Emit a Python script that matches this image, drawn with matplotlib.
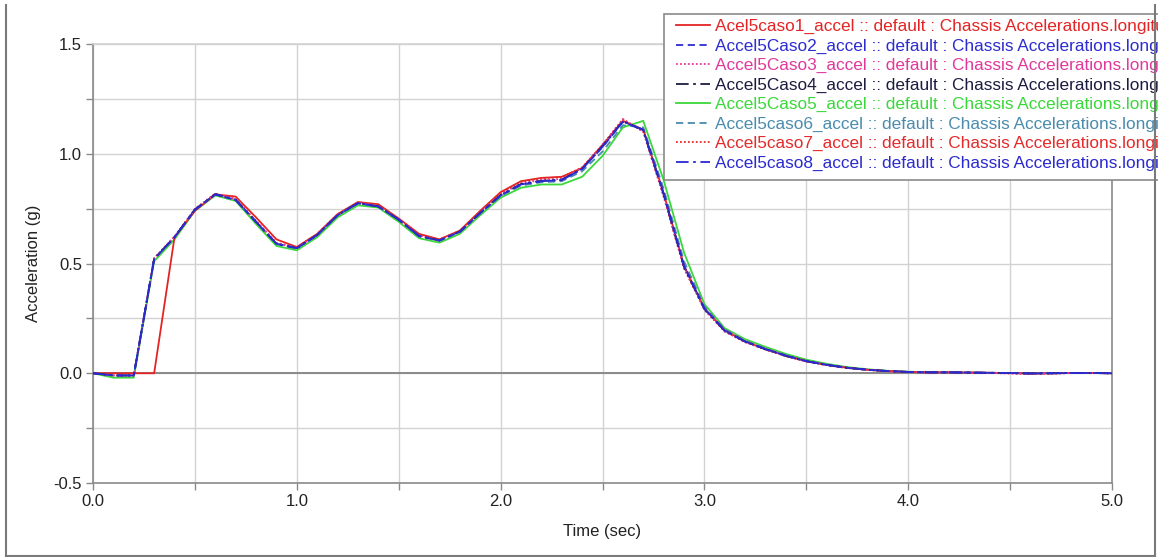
import numpy as np
import matplotlib.pyplot as plt
from matplotlib.lines import Line2D
from matplotlib.patches import Rectangle

plt.rcParams['font.family'] = ['Liberation Sans', 'DejaVu Sans']

# time axis, samples every 0.1 s
time = np.arange(0, 51) / 10

caso1 = [0.000, 0.000, 0.000, 0.000, 0.620, 0.740, 0.815, 0.805, 0.710, 0.610,
         0.575, 0.635, 0.725, 0.780, 0.770, 0.705, 0.635, 0.610, 0.650, 0.740,
         0.825, 0.875, 0.890, 0.895, 0.935, 1.040, 1.150, 1.110, 0.820, 0.490,
         0.295, 0.195, 0.145, 0.110, 0.080, 0.055, 0.038, 0.025, 0.016, 0.010,
         0.006, 0.004, 0.004, 0.003, 0.002, 0.001, -0.001, 0.000, 0.001, 0.001,
         0.000]
caso2 = [0.000, -0.010, -0.010, 0.520, 0.620, 0.745, 0.815, 0.790, 0.690, 0.590,
         0.570, 0.630, 0.720, 0.775, 0.760, 0.700, 0.625, 0.605, 0.645, 0.730,
         0.810, 0.860, 0.875, 0.880, 0.930, 1.030, 1.145, 1.110, 0.820, 0.490,
         0.295, 0.195, 0.145, 0.110, 0.080, 0.055, 0.038, 0.025, 0.016, 0.010,
         0.006, 0.004, 0.004, 0.003, 0.002, 0.001, -0.001, 0.000, 0.001, 0.001,
         0.000]
caso3 = [0.000, -0.010, -0.010, 0.525, 0.622, 0.748, 0.818, 0.792, 0.692, 0.592,
         0.572, 0.632, 0.722, 0.777, 0.762, 0.702, 0.627, 0.607, 0.647, 0.732,
         0.815, 0.865, 0.880, 0.885, 0.935, 1.040, 1.155, 1.105, 0.810, 0.480,
         0.290, 0.190, 0.142, 0.108, 0.078, 0.054, 0.037, 0.024, 0.015, 0.009,
         0.006, 0.004, 0.004, 0.003, 0.002, 0.000, -0.002, 0.000, 0.001, 0.001,
         0.000]
caso4 = [0.000, -0.010, -0.010, 0.522, 0.620, 0.746, 0.816, 0.790, 0.690, 0.590,
         0.570, 0.630, 0.720, 0.775, 0.760, 0.700, 0.625, 0.605, 0.645, 0.730,
         0.812, 0.862, 0.877, 0.882, 0.932, 1.035, 1.148, 1.108, 0.815, 0.485,
         0.293, 0.193, 0.144, 0.109, 0.079, 0.055, 0.038, 0.025, 0.016, 0.010,
         0.006, 0.004, 0.004, 0.003, 0.002, 0.001, -0.001, 0.000, 0.001, 0.001,
         0.000]
caso5 = [0.000, -0.020, -0.020, 0.510, 0.610, 0.740, 0.810, 0.785, 0.680, 0.580,
         0.560, 0.620, 0.710, 0.765, 0.755, 0.690, 0.615, 0.595, 0.635, 0.720,
         0.800, 0.845, 0.860, 0.860, 0.895, 0.990, 1.120, 1.150, 0.880, 0.550,
         0.315, 0.205, 0.155, 0.120, 0.088, 0.062, 0.043, 0.028, 0.018, 0.011,
         0.007, 0.005, 0.004, 0.003, 0.002, 0.001, 0.000, 0.000, 0.001, 0.001,
         0.000]
caso6 = [0.000, -0.010, -0.010, 0.520, 0.618, 0.744, 0.814, 0.788, 0.688, 0.588,
         0.568, 0.628, 0.718, 0.773, 0.758, 0.698, 0.623, 0.603, 0.643, 0.728,
         0.808, 0.855, 0.870, 0.875, 0.920, 1.010, 1.130, 1.120, 0.840, 0.510,
         0.305, 0.200, 0.148, 0.113, 0.082, 0.057, 0.040, 0.026, 0.017, 0.010,
         0.006, 0.004, 0.004, 0.003, 0.002, 0.001, 0.000, 0.000, 0.001, 0.001,
         0.000]
caso7 = [0.000, -0.010, -0.010, 0.522, 0.622, 0.748, 0.818, 0.794, 0.694, 0.594,
         0.574, 0.634, 0.724, 0.779, 0.764, 0.704, 0.629, 0.609, 0.649, 0.735,
         0.820, 0.872, 0.888, 0.893, 0.938, 1.040, 1.158, 1.100, 0.805, 0.478,
         0.290, 0.190, 0.142, 0.108, 0.078, 0.054, 0.037, 0.024, 0.015, 0.009,
         0.006, 0.004, 0.004, 0.003, 0.001, -0.001, -0.003, -0.002, 0.001, 0.001,
         0.000]
caso8 = [0.000, -0.010, -0.010, 0.520, 0.620, 0.745, 0.815, 0.790, 0.690, 0.590,
         0.570, 0.630, 0.720, 0.775, 0.760, 0.700, 0.625, 0.605, 0.645, 0.730,
         0.810, 0.860, 0.875, 0.880, 0.930, 1.032, 1.147, 1.108, 0.818, 0.488,
         0.294, 0.194, 0.145, 0.110, 0.080, 0.055, 0.038, 0.025, 0.016, 0.010,
         0.006, 0.004, 0.004, 0.003, 0.002, 0.001, -0.001, 0.000, 0.001, 0.001,
         0.000]

names = ['Acel5caso1_accel', 'Accel5Caso2_accel', 'Accel5Caso3_accel', 'Accel5Caso4_accel',
         'Accel5Caso5_accel', 'Accel5caso6_accel', 'Accel5caso7_accel', 'Accel5caso8_accel']
series = [caso1, caso2, caso3, caso4, caso5, caso6, caso7, caso8]
colors = ['#e42424', '#2c2cd0', '#e0389c', '#1c1c40', '#3ad83a', '#4a8cae', '#e42a2a', '#2a2ad0']
styles = ['-', (0, (4, 2.5)), (0, (1, 1.2)), (0, (7, 2.5, 1.5, 2.5)),
          '-', (0, (4, 2.5)), (0, (1, 1.2)), (0, (7, 2.5, 1.5, 2.5))]
suffix = ' :: default : Chassis Accelerations.longitudinal'

fig = plt.figure(figsize=(11.58, 5.57), dpi=100)
ax = fig.add_axes([93 / 1158, 1 - 483 / 557, (1112 - 93) / 1158, (483 - 44) / 557])

# draw back to front so case 1 (red) ends up visible like in the original
order = [4, 5, 0, 6, 2, 3, 1, 7]
for i in order:
    ax.plot(time, series[i], color=colors[i], linestyle=styles[i], lw=1.3,
            label=names[i] + suffix, zorder=3 + order.index(i) * 0.1)

ax.axhline(0, color='#8a8a8a', lw=1.4, zorder=2)
ax.set_xlim(0, 5)
ax.set_ylim(-0.5, 1.5)
ax.set_xticks(np.arange(0, 5.01, 0.5))
ax.set_xticklabels(['0.0', '', '1.0', '', '2.0', '', '3.0', '', '4.0', '', '5.0'])
ax.set_yticks(np.arange(-0.5, 1.51, 0.25))
ax.set_yticklabels(['-0.5', '', '0.0', '', '0.5', '', '1.0', '', '1.5'])
ax.grid(True, color='#d2d2d2', lw=1.0, zorder=0)
ax.tick_params(direction='out', length=5, width=1, color='#8a8a8a', labelsize=12,
               labelcolor='#222222', pad=3)
for s in ax.spines.values():
    s.set_color('#8a8a8a')
    s.set_linewidth(1.2)
ax.spines['top'].set_color('#d2d2d2')
ax.set_xlabel('Time (sec)', fontsize=12, color='#222222', labelpad=11)
ax.set_ylabel('Acceleration (g)', fontsize=12, color='#222222', labelpad=9)

# legend box (the legend itself runs past the right edge, as in the original)
fig.add_artist(Rectangle((664 / 1158, 1 - 180 / 557), 500 / 1158, 166 / 557,
                         transform=fig.transFigure, facecolor='white',
                         edgecolor='#8a8a8a', lw=1.2, zorder=5))
handles, labels = ax.get_legend_handles_labels()
hl = dict(zip(labels, handles))
leg_labels = [n + suffix for n in names]
leg = fig.legend([hl[l] for l in leg_labels], leg_labels, loc='upper left',
                 bbox_to_anchor=(676 / 1158, 1 - 19 / 557), borderaxespad=0,
                 fontsize=12.4, labelspacing=0.25, handlelength=2.0, handletextpad=0.25,
                 borderpad=0, frameon=False, labelcolor='linecolor')
leg.set_zorder(6)

# outer frame of the screenshot
for xs, ys in [([6, 6], [5, 556]), ([6, 1155], [556, 556]), ([1155, 1155], [5, 556])]:
    fig.add_artist(Line2D([x / 1158 for x in xs], [1 - y / 557 for y in ys],
                          color='#7a7a7a', lw=1.5, zorder=10))

fig.savefig('out.png', dpi=100)
